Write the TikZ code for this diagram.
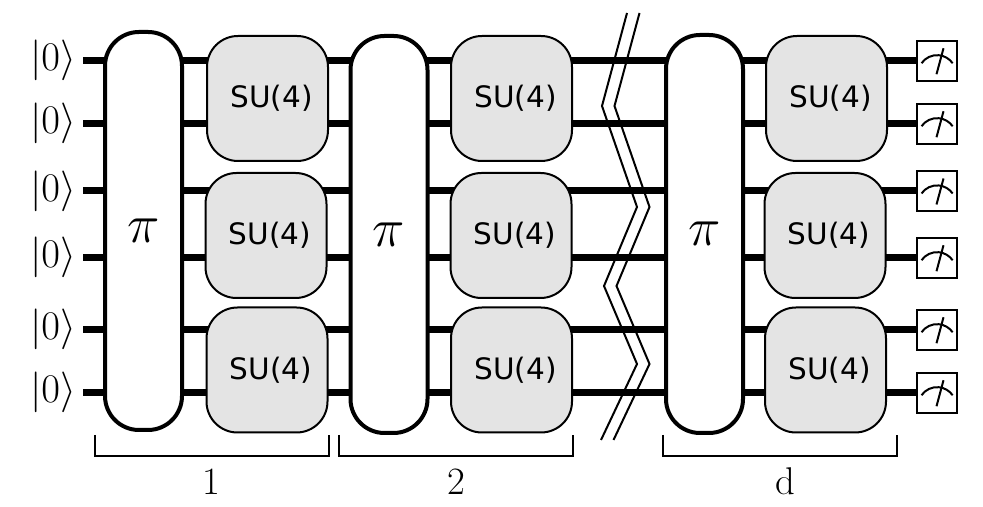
\documentclass[tikz,border=0pt]{standalone}
\usepackage{amsmath,amssymb}
\usepackage{fontspec}
\newfontfamily\sufont{DejaVu Sans}

\tikzset{
  wire/.style={line width=0.14cm},
  ketnode/.style={inner sep=0pt, scale=0.93},
  permblock/.style={draw=black, fill=white, line width=0.08cm, rounded corners=0.68cm,
      minimum width=1.54cm, inner sep=0pt},
  subox/.style={draw=black, fill=sugray, line width=0.04cm, rounded corners=0.62cm,
      minimum width=2.42cm, minimum height=2.50cm, inner sep=0pt,
      font=\sufont\fontsize{16.8}{20}\selectfont},
  meterbox/.style={draw=black, fill=white, line width=0.04cm,
      minimum width=0.80cm, minimum height=0.80cm, inner sep=0pt},
  meterline/.style={line width=0.04cm},
  breakline/.style={line width=0.04cm},
  bracket/.style={line width=0.04cm},
  countnode/.style={anchor=base, inner sep=0pt, font=\fontsize{22}{26}\selectfont}
}
\definecolor{sugray}{HTML}{E4E4E4}

\begin{document}
\begin{tikzpicture}

\useasboundingbox (0,0) rectangle (19.66,10.14);

% Cables, estados y medidas
\foreach \i/\y in {1/8.925,2/7.665,3/6.32,4/4.985,5/3.545,6/2.285} {
  \coordinate (wire\i) at (1.66,\y);
  \node[ketnode] (ket\i) at (1.06,\y) {\Huge $|0\rangle$};
  \node[meterbox] (meter\i) at (18.74,\y-0.01) {};
  \draw[wire] (wire\i) -- (wire\i -| meter\i.west);
  \draw[meterline] ([shift={(-0.31,-0.04)}]meter\i.center) arc[start angle=145, end angle=35, radius=0.38];
  \draw[meterline] ([shift={(-0.01,-0.26)}]meter\i.center) -- ([shift={(0.13,0.26)}]meter\i.center);
}

% Corte
\foreach \dx in {0,0.25} {
  \draw[breakline, xshift=\dx cm] (12.54,9.88) -- (12.04,8.02) -- (12.74,6.00)
      -- (12.08,4.42) -- (12.74,2.86) -- (12.02,1.34);
}

% Bloques pi
\node[permblock, minimum height=7.96cm] (perm1) at (2.87,5.52) {\Huge\raisebox{-1pt}{\scalebox{1.25}{$\pi$}}};
\node[permblock, minimum height=7.94cm] (perm2) at (7.78,5.45) {\Huge\raisebox{-1pt}{\scalebox{1.25}{$\pi$}}};
\node[permblock, minimum height=7.96cm] (perm3) at (14.09,5.46) {\Huge\raisebox{-1pt}{\scalebox{1.25}{$\pi$}}};

% Bloques SU(4)
\foreach \n/\x/\y in {a1/5.35/8.17, a2/5.32/5.43, a3/5.34/2.74,
                      b1/10.23/8.17, b2/10.22/5.43, b3/10.23/2.74,
                      c1/16.53/8.17, c2/16.50/5.43, c3/16.51/2.74} {
  \node[subox] (su\n) at (\x,\y) {\hspace{1.6mm}\raisebox{-0.8pt}{SU(4)}};
}

% Capas
\draw[bracket] (1.90,1.44) -- (1.90,1.02) -- (6.58,1.02) -- (6.58,1.44);
\node[countnode] (layer1) at (4.22,0.25) {1};
\draw[bracket] (6.78,1.44) -- (6.78,1.02) -- (11.45,1.02) -- (11.45,1.44);
\node[countnode] (layer2) at (9.12,0.25) {2};
\draw[bracket] (13.26,1.44) -- (13.26,1.02) -- (17.93,1.02) -- (17.93,1.44);
\node[countnode] (layerd) at (15.70,0.25) {d};

\end{tikzpicture}
\end{document}
